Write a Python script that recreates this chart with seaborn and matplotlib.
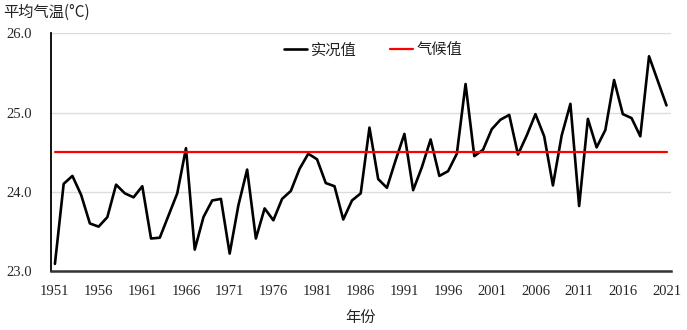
import numpy as np
import pandas as pd
import matplotlib
matplotlib.use("Agg")
import matplotlib.pyplot as plt
import seaborn as sns

years = list(range(1951, 2022))
observed = [23.09, 24.10, 24.20, 23.96, 23.60, 23.56, 23.68, 24.09, 23.98, 23.93,
            24.07, 23.41, 23.42, 23.70, 23.98, 24.55, 23.27, 23.68, 23.89, 23.91,
            23.22, 23.83, 24.28, 23.41, 23.79, 23.64, 23.91, 24.01, 24.29, 24.48,
            24.41, 24.11, 24.07, 23.65, 23.89, 23.98, 24.81, 24.16, 24.05, 24.40,
            24.73, 24.02, 24.31, 24.66, 24.20, 24.26, 24.48, 25.36, 24.45, 24.53,
            24.79, 24.91, 24.97, 24.47, 24.71, 24.98, 24.70, 24.08, 24.71, 25.11,
            23.82, 24.92, 24.56, 24.78, 25.41, 24.98, 24.93, 24.70, 25.71, 25.40,
            25.09]
climate_value = 24.5
climate = [climate_value] * len(years)
xtick_years = list(range(1951, 2022, 5))
yticks = [23.0, 24.0, 25.0, 26.0]

series_obs = "实况值"
series_clim = "气候值"
ylabel = "平均气温(°C)"
xlabel = "年份"

df = pd.DataFrame({"year": years, "obs": observed, "clim": climate})

sns.set_style("white")
plt.rcParams["font.family"] = ["Liberation Serif", "Noto Sans CJK SC"]

fig = plt.figure(figsize=(6.87, 3.30), dpi=100)
ax = fig.add_axes([51 / 687, 1 - 271 / 330, (670.7 - 51) / 687, (271 - 33.3) / 330])

sns.lineplot(data=df, x="year", y="obs", ax=ax, color="black", linewidth=1.9, label=series_obs)
sns.lineplot(data=df, x="year", y="clim", ax=ax, color="#ff0000", linewidth=1.6, label=series_clim)

ax.set_xlim(1950.55, 2021.48)
ax.set_ylim(23.0, 26.0)
ax.set_xticks(xtick_years)
ax.set_xticklabels([str(y) for y in xtick_years], fontsize=10.5, family="Liberation Serif")
ax.set_yticks(yticks)
ax.set_yticklabels([f"{v:.1f}" for v in yticks], fontsize=10.5, family="Liberation Serif")
ax.tick_params(axis="both", length=0)
ax.tick_params(axis="x", pad=10)
ax.tick_params(axis="y", pad=14)

ax.grid(axis="y", color="#dcdcdc", linewidth=1.0)
ax.set_axisbelow(True)
for s in ["top", "right"]:
    ax.spines[s].set_visible(False)
ax.spines["left"].set_color("black")
ax.spines["left"].set_linewidth(1.3)
ax.spines["bottom"].set_color("#333333")
ax.spines["bottom"].set_linewidth(1.8)

ax.set_ylabel("")
ax.set_xlabel(xlabel, fontsize=11, family=["Noto Sans CJK SC"], labelpad=8, color="#222222")
fig.text(3 / 687, 1 - 12 / 330, ylabel, fontsize=11, family=["Noto Sans CJK SC"],
         ha="left", va="center", color="#222222")

leg = ax.legend(loc="center", bbox_to_anchor=(0.52, 0.93), ncol=2, frameon=False,
                handlelength=1.5, handletextpad=0.25, columnspacing=2.2,
                prop={"family": ["Noto Sans CJK SC"], "size": 11})
for t in leg.get_texts():
    t.set_color("#222222")

fig.savefig("out.png", dpi=100)
